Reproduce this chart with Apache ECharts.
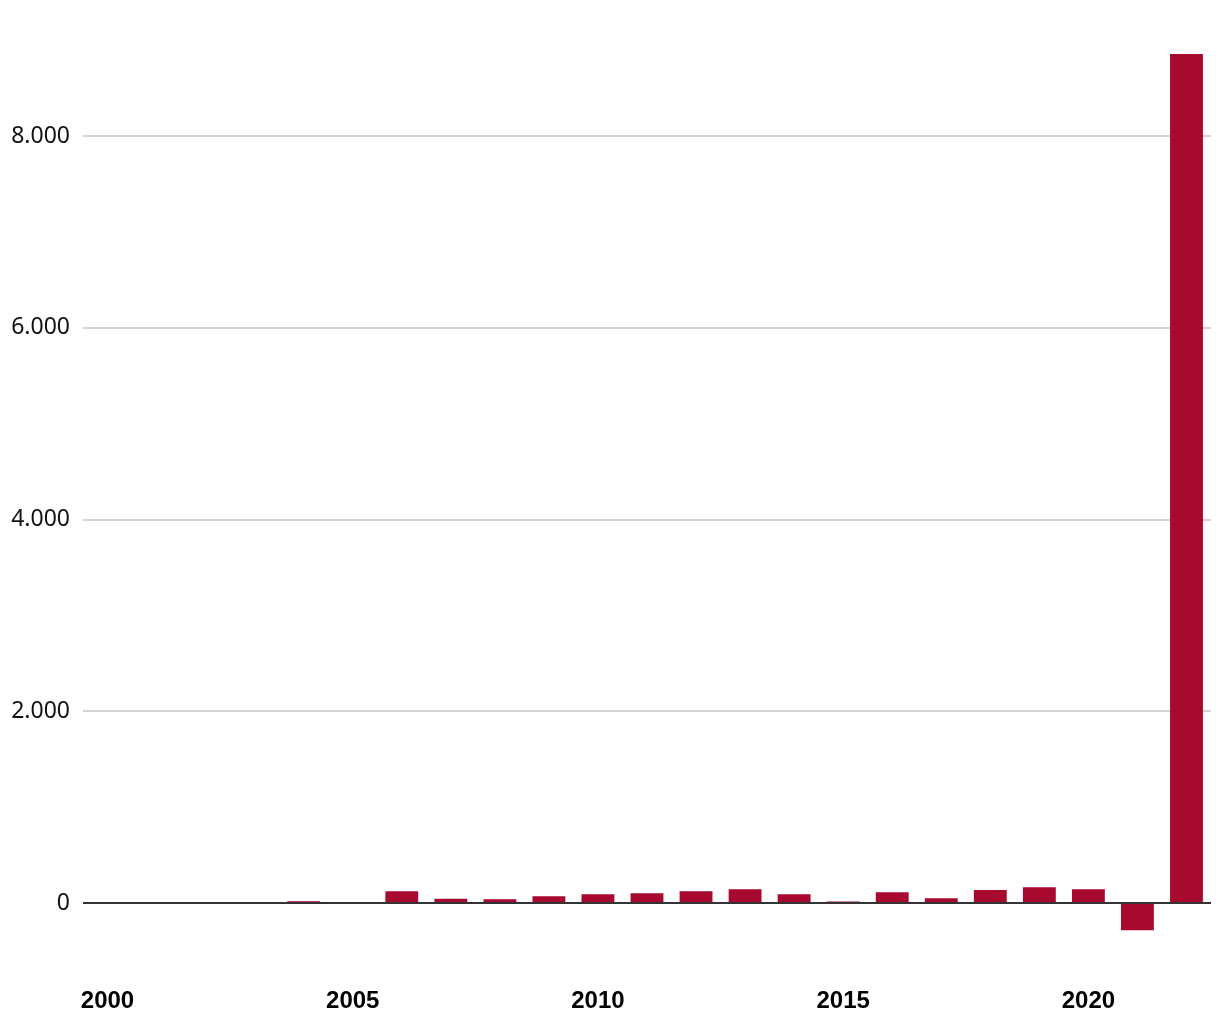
<!DOCTYPE html>
<html>
<head>
<meta charset="utf-8">
<script src="https://cdn.jsdelivr.net/npm/echarts@6/dist/echarts.min.js"></script>
<style>html,body{margin:0;padding:0;background:#fff}#c{width:1220px;height:1020px}</style>
</head>
<body>
<div id="c"></div>
<script>
const years = ['2000','2001','2002','2003','2004','2005','2006','2007','2008','2009','2010','2011','2012','2013','2014','2015','2016','2017','2018','2019','2020','2021','2022'];
const values = [0,0,0,0,18,0,123,45,40,71,92,102,123,144,92,15,113,50,134,165,144,-285,8856];
const yTicks = [0,2000,4000,6000,8000];

const chart = echarts.init(document.getElementById('c'));
chart.setOption({
  animation:false,
  grid:{left:83,right:9,top:40.2,bottom:69.1,containLabel:false},
  xAxis:{
    type:'category',data:years,
    axisLine:{show:false},axisTick:{show:false},
    axisLabel:{interval:4,margin:38,color:'#000',fontFamily:'Liberation Sans, Arial, sans-serif',fontWeight:'bold',fontSize:24}
  },
  yAxis:{
    type:'value',min:-500,max:9000,interval:500,
    splitLine:{show:false},axisLine:{show:false},axisTick:{show:false},
    axisLabel:{margin:13,color:'#111',fontFamily:'Noto Sans, Open Sans, sans-serif',fontSize:23,
      formatter:function(v){ if(yTicks.indexOf(v)<0) return ''; return v===0?'0':(v/1000)+'.000'; }}
  },
  series:[{
    type:'line',data:[],z:0,zlevel:0,
    markLine:{silent:true,symbol:'none',label:{show:false},z:0,
      data:yTicks.filter(v=>v>0).map(v=>({yAxis:v,lineStyle:{color:'#c4c4c4',width:1.5,type:'solid'}}))
    }
  },{
    type:'bar',data:values,barWidth:'67%',
    itemStyle:{color:'#A8092F'},
    z:3
  },{
    type:'line',data:[],z:5,
    markLine:{silent:true,symbol:'none',label:{show:false},z:5,
      data:[{yAxis:0,lineStyle:{color:'#333',width:2,type:'solid'}}]}
  }]
});
</script>
</body>
</html>
